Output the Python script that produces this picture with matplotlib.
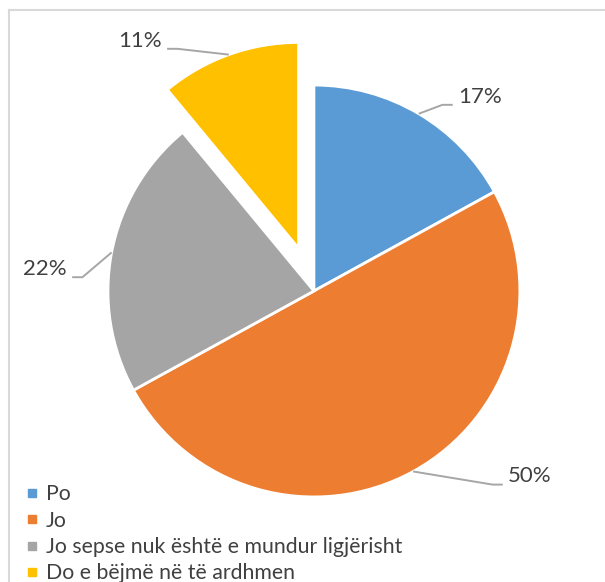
import numpy as np
import matplotlib.pyplot as plt
from matplotlib.lines import Line2D

# data
categories = ["Po", "Jo", "Jo sepse nuk është e mundur ligjërisht", "Do e bëjmë në të ardhmen"]
values = [17, 50, 22, 11]
labels = ["17%", "50%", "22%", "11%"]
colors = ["#5B9BD5", "#ED7D31", "#A5A5A5", "#FFC000"]
explode = [0, 0, 0, 0.22]

# label layout (data coords, pie radius = 1): x of near text edge, y of text centre, side
label_pos = [(0.699, 0.944, 1), (0.942, -0.900, 1), (-1.199, 0.107, -1), (-0.738, 1.216, -1)]

plt.rcParams['font.family'] = ['Lato', 'DejaVu Sans']

fig = plt.figure(figsize=(6.05, 5.82), dpi=100)
ax = fig.add_axes([0, 0, 1, 1])
wedges, _ = ax.pie(values, colors=colors, startangle=90, counterclock=False,
                   explode=explode, radius=1,
                   wedgeprops=dict(edgecolor="white", linewidth=2))
ax.set_xlim(-1.524, 1.413)
ax.set_ylim(-1.413, 1.413)
ax.set_aspect("equal")
ax.axis("off")

# percentage labels with leader lines
for w, lab, (tx, ty, side) in zip(wedges, labels, label_pos):
    mid = np.deg2rad((w.theta1 + w.theta2) / 2)
    cx, cy = w.center
    sx, sy = cx + np.cos(mid), cy + np.sin(mid)
    ly = ty - 0.04
    ex = tx - side * 0.025
    elx = ex - side * 0.05
    ax.plot([sx, elx, ex], [sy, ly, ly], color="#A6A6A6", lw=1.4,
            solid_capstyle="butt")
    ax.text(tx, ty, lab, ha="left" if side > 0 else "right", va="center",
            fontsize=16, color="#404040")

# legend
handles = [Line2D([0], [0], marker="s", linestyle="none", markersize=6,
                  markerfacecolor=c, markeredgecolor=c) for c in colors]
fig.legend(handles, categories, loc="upper left", bbox_to_anchor=(0.043, 0.168),
           frameon=False, fontsize=15.3, labelcolor="#404040",
           handlelength=0.6, handletextpad=0.35, labelspacing=0.3,
           borderaxespad=0, borderpad=0)

# chart border (top and left visible)
fig.add_artist(Line2D([8.5 / 605, 8.5 / 605], [0, 1 - 9.5 / 582], color="#D9D9D9",
                      lw=1.5, transform=fig.transFigure))
fig.add_artist(Line2D([8.5 / 605, 1], [1 - 9.5 / 582, 1 - 9.5 / 582], color="#D9D9D9",
                      lw=1.5, transform=fig.transFigure))

fig.savefig("out.png", dpi=100, facecolor="white")
